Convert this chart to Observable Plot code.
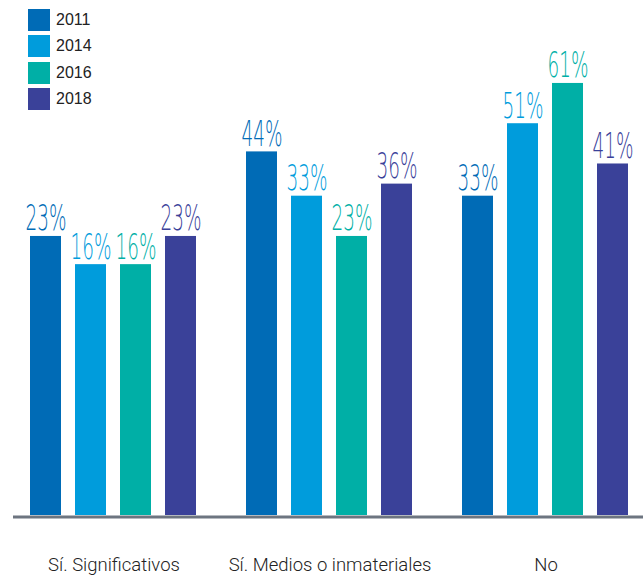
<!DOCTYPE html>
<html><head><meta charset="utf-8">
<script src="https://cdn.jsdelivr.net/npm/d3@7"></script>
<script src="https://cdn.jsdelivr.net/npm/@observablehq/plot@0.6"></script>
<style>
body{margin:0;background:#fff;}
#wrap{position:relative;width:643px;height:575px;}
#legend{position:absolute;left:28px;top:9px;font-family:"Liberation Sans",Arial,sans-serif;font-size:16px;color:#222;}
.row{display:flex;align-items:center;height:22px;margin-bottom:4.33px;}
.sw{width:22px;height:22px;margin-right:6px;}
</style></head><body><div id="wrap"></div>
<script>
const categories = ["Sí. Significativos", "Sí. Medios o inmateriales", "No"];
const years = ["2011", "2014", "2016", "2018"];
const values2011 = [23, 44, 33];
const values2014 = [16, 33, 51];
const values2016 = [16, 23, 61];
const values2018 = [23, 36, 41];
const colors = ["#006bb6", "#009cdc", "#00afa6", "#3a4199"];
// y scale: bars start at the bottom of the frame (chart is not zero-based)
const yFloor = -46.3, yTop = 81.6;

const series = [values2011, values2014, values2016, values2018];
const rows = categories.flatMap((c, i) => years.map((y, j) => ({category: c, year: y, value: series[j][i]})));

const chart = Plot.plot({
  width: 643, height: 575,
  marginTop: 0, marginBottom: 60, marginLeft: 29, marginRight: 14,
  fx: {domain: categories, paddingInner: 0.2286, paddingOuter: 0, axis: null},
  x: {domain: years, paddingInner: 0.31, paddingOuter: 0, axis: null},
  y: {domain: [yFloor, yTop], axis: null},
  color: {domain: years, range: colors},
  marks: [
    Plot.ruleY([{category: categories[0], v: yFloor}], {fx: "category", y: "v", stroke: "#6d7580", strokeWidth: 3, dy: 1.5, insetLeft: -17, insetRight: -447}),
    Plot.barY(rows, {fx: "category", x: "year", y1: yFloor, y2: "value", fill: "year"}),
    Plot.text(rows, {fx: "category", x: "year", y: "value", text: d => d.value + "%", fill: "year",
      lineAnchor: "bottom", dy: -6, fontSize: 36, fontFamily: "'DejaVu Sans ExtraLight', 'DejaVu Sans', sans-serif", fontWeight: 200}),
    Plot.axisFx({anchor: "bottom", tickSize: 0, tickPadding: 42, fontSize: 18.5, label: null,
      fontFamily: "Roboto, 'Liberation Sans', sans-serif", fontWeight: 300, fill: "#222"})
  ]
});
chart.querySelectorAll("text").forEach(t => {
  if (/%$/.test(t.textContent)) {
    t.setAttribute("textLength", 41);
    t.setAttribute("lengthAdjust", "spacingAndGlyphs");
  }
});
const wrap = document.getElementById("wrap");
wrap.appendChild(chart);
const legend = document.createElement("div");
legend.id = "legend";
years.forEach((y, j) => {
  const r = document.createElement("div");
  r.className = "row";
  r.innerHTML = `<div class="sw" style="background:${colors[j]}"></div><span>${y}</span>`;
  legend.appendChild(r);
});
wrap.appendChild(legend);
</script></body></html>
